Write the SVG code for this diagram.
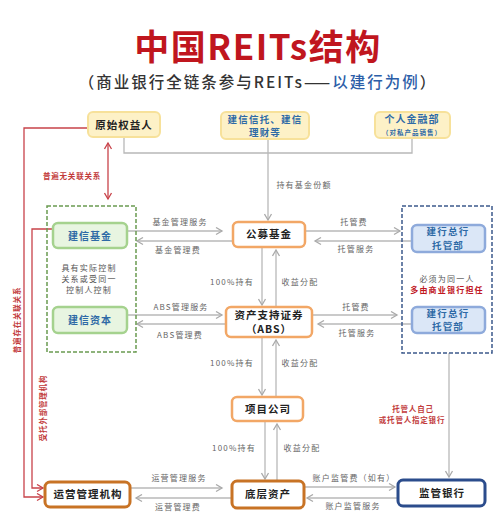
<svg xmlns="http://www.w3.org/2000/svg" width="500" height="530" viewBox="0 0 500 530">
<style>
text{font-family:"Noto Sans CJK SC","Noto Sans",sans-serif;text-anchor:middle}
.title{font-size:35px;font-weight:700;fill:#c0161e;letter-spacing:1.5px}
.sub{font-size:15.5px;font-weight:500;fill:#333;letter-spacing:2px}
.nt{font-size:10.5px;font-weight:700;fill:#222;letter-spacing:1px}
.bt{font-size:10px;font-weight:700;fill:#2e6aa6;letter-spacing:1px}
.bt2{font-size:9.5px;font-weight:700;fill:#2e6aa6;letter-spacing:1.2px}
.lb{font-size:8px;fill:#666;letter-spacing:1.2px}
.rd{font-size:7.5px;font-weight:700;fill:#c23b3b;letter-spacing:0.8px}
.gt{font-size:8px;fill:#555;letter-spacing:1.2px}
.yel{fill:#fdf1c7;stroke:#f7e19a;stroke-width:2}
.org{fill:#fff;stroke:#f2a766;stroke-width:2.5}
.dor{fill:#fff;stroke:#c87325;stroke-width:3}
.blu{fill:#fff;stroke:#2b4c8c;stroke-width:3}
.grn{fill:#e8f5e1;stroke:#a5d28e;stroke-width:2.5}
.lbl{fill:#dbe7f7;stroke:#8eaadb;stroke-width:2.5}
.gl{fill:none;stroke:#b8b8b8;stroke-width:1.3}
.ga{fill:none;stroke:#b8b8b8;stroke-width:1.3;marker-end:url(#ag)}
.ra{fill:none;stroke:#c8434a;stroke-width:1.3;marker-end:url(#ar)}
</style>
<defs>
<marker id="ag" markerWidth="9" markerHeight="9" refX="7" refY="4.5" orient="auto" markerUnits="userSpaceOnUse"><path d="M1,1 L7,4.5 L1,8" fill="none" stroke="#aaa" stroke-width="1.3"/></marker>
<marker id="ar" markerWidth="9" markerHeight="9" refX="7" refY="4.5" orient="auto-start-reverse" markerUnits="userSpaceOnUse"><path d="M1,1 L7,4.5 L1,8" fill="none" stroke="#c8434a" stroke-width="1.3"/></marker>
</defs>
<rect width="500" height="530" fill="#fff"/>
<text class="title" x="258" y="60">中国REITs结构</text>
<text class="sub" x="258" y="88">（商业银行全链条参与REITs——<tspan fill="#2c5ea8">以建行为例</tspan>）</text>

<g id="connectors">
<path class="gl" d="M124,137 V153 H412 V137"/>
<path class="ga" d="M268,139 V220"/>
<path class="ga" d="M127,231 H222"/>
<path class="ga" d="M233,241 H137"/>
<path class="ga" d="M305,231 H400"/>
<path class="ga" d="M412,241 H315"/>
<path class="ga" d="M127,315 H222"/>
<path class="ga" d="M226,324 H137"/>
<path class="ga" d="M312,315 H397"/>
<path class="ga" d="M412,324 H318"/>
<path class="ga" d="M262,247 V305"/>
<path class="ga" d="M276,307 V250"/>
<path class="ga" d="M262,337 V395"/>
<path class="ga" d="M276,397 V340"/>
<path class="ga" d="M265,421 V479"/>
<path class="ga" d="M277,481 V424"/>
<path class="ga" d="M130,488 H222"/>
<path class="ga" d="M232,498 H136"/>
<path class="ga" d="M304,487 H395"/>
<path class="ga" d="M398,498 H307"/>
<path class="ga" d="M449,353 V477"/>
<path class="ra" d="M88,128 H24 V497 H43"/>
<path class="ra" d="M52,229 H32 V488 H43"/>
<path class="ra" d="M108,143 V199" marker-start="url(#ar)"/>
<text class="lb" x="304" y="188">持有基金份额</text>
<text class="lb" x="180" y="225">基金管理服务</text>
<text class="lb" x="178" y="253">基金管理费</text>
<text class="lb" x="354" y="225">托管费</text>
<text class="lb" x="356" y="252">托管服务</text>
<text class="lb" x="181" y="310">ABS管理服务</text>
<text class="lb" x="180" y="338">ABS管理费</text>
<text class="lb" x="356" y="310">托管费</text>
<text class="lb" x="357" y="336">托管服务</text>
<text class="lb" x="232" y="285">100%持有</text>
<text class="lb" x="300" y="285">收益分配</text>
<text class="lb" x="232" y="366">100%持有</text>
<text class="lb" x="300" y="366">收益分配</text>
<text class="lb" x="234" y="451">100%持有</text>
<text class="lb" x="302" y="451">收益分配</text>
<text class="lb" x="179" y="481">运营管理服务</text>
<text class="lb" x="178" y="510">运营管理费</text>
<text class="lb" x="354" y="481">账户监管费（如有）</text>
<text class="lb" x="353" y="509">账户监管服务</text>
<text class="rd" x="72" y="179">普遍无关联关系</text>
<text class="rd" x="413" y="412">托管人自己</text>
<text class="rd" x="412" y="423">或托管人指定银行</text>
<text class="rd" transform="translate(20,320) rotate(-90)">普遍存在关联关系</text>
<text class="rd" transform="translate(46,408) rotate(-90)">受托外部管理机构</text>
</g>

<g id="group-green">
<rect x="47" y="206" width="89" height="146" fill="none" stroke="#6a9a50" stroke-width="1.5" stroke-dasharray="4,2"/>
<text class="gt" x="89" y="271">具有实际控制</text>
<text class="gt" x="89" y="282">关系或受同一</text>
<text class="gt" x="89" y="293">控制人控制</text>
</g>
<g id="group-blue">
<rect x="402" y="206" width="90" height="147" fill="none" stroke="#3c5a8c" stroke-width="1.5" stroke-dasharray="4,2"/>
<text class="gt" x="447" y="282">必须为同一人</text>
<text class="gt" x="447" y="293" style="fill:#c0161e;font-weight:700">多由商业银行担任</text>
</g>

<g id="n-yuanshi"><rect class="yel" x="88" y="112" width="72" height="25" rx="5"/><text class="nt" x="124" y="128.5">原始权益人</text></g>
<g id="n-jianxin-xintuo"><rect class="yel" x="221" y="112" width="88" height="27" rx="5"/><text class="bt2" x="265" y="123">建信信托、建信</text><text class="bt2" x="265" y="136">理财等</text></g>
<g id="n-geren"><rect class="yel" x="375" y="112" width="75" height="26" rx="5"/><text class="bt" x="412" y="123">个人金融部</text><text class="bt" x="412" y="134.5" style="font-size:6.5px">（对私产品销售）</text></g>
<g id="n-gongmu"><rect class="org" x="233" y="222" width="72" height="25" rx="5"/><text class="nt" x="269" y="238">公募基金</text></g>
<g id="n-abs"><rect class="org" x="226" y="307" width="86" height="30" rx="5"/><text class="nt" x="269" y="319">资产支持证券</text><text class="nt" x="269" y="333">（ABS）</text></g>
<g id="n-xiangmu"><rect class="org" x="232" y="397" width="71" height="24" rx="5"/><text class="nt" x="268" y="412.5">项目公司</text></g>
<g id="n-dichen"><rect class="dor" x="232" y="481" width="72" height="27" rx="5"/><text class="nt" x="268" y="498">底层资产</text></g>
<g id="n-yunying"><rect class="dor" x="45" y="482" width="85" height="25" rx="5"/><text class="nt" x="88" y="498">运营管理机构</text></g>
<g id="n-jianguan"><rect class="blu" x="398" y="480" width="87" height="26" rx="5"/><text class="nt" x="442" y="497">监管银行</text></g>
<g id="n-jxjj"><rect class="grn" x="53" y="223" width="74" height="25" rx="5"/><text class="bt" x="90" y="239.5">建信基金</text></g>
<g id="n-jxzb"><rect class="grn" x="53" y="307" width="74" height="26" rx="5"/><text class="bt" x="90" y="324">建信资本</text></g>
<g id="n-tuoguan1"><rect class="lbl" x="412" y="225" width="73" height="27" rx="5"/><text class="bt2" x="448" y="235">建行总行</text><text class="bt2" x="448" y="248.5">托管部</text></g>
<g id="n-tuoguan2"><rect class="lbl" x="412" y="307" width="73" height="26" rx="5"/><text class="bt2" x="448" y="316.5">建行总行</text><text class="bt2" x="448" y="330">托管部</text></g>
</svg>
